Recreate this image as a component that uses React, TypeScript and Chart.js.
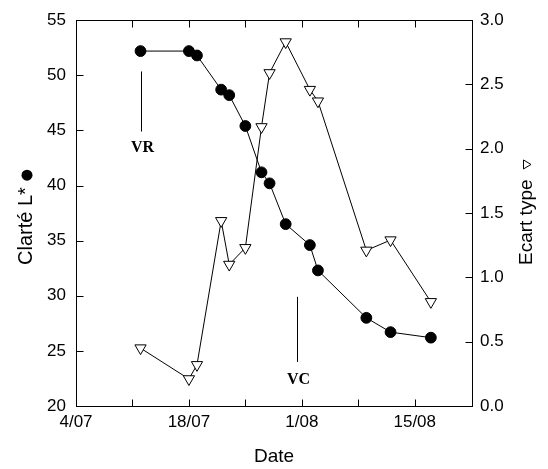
import React, { useEffect, useRef } from 'react';
import { Chart, registerables } from 'chart.js';

Chart.register(...registerables);

// Days counted from 4 July
const days = [8, 14, 15, 18, 19, 21, 23, 24, 26, 29, 30, 36, 39, 44];
const clarte = [52.2, 52.2, 51.8, 48.7, 48.2, 45.4, 41.2, 40.2, 36.5, 34.6, 32.3, 28.0, 26.7, 26.2];
const ecartType = [0.45, 0.21, 0.32, 1.44, 1.1, 1.23, 2.17, 2.59, 2.83, 2.46, 2.37, 1.21, 1.29, 0.81];

const xMin = 0;
const xMax = 49.1;
const xTickValues = [0, 7, 14, 21, 28, 35, 42];
const xTickLabels: Record<number, string> = { 0: '4/07', 14: '18/07', 28: '1/08', 42: '15/08' };
const leftTicks = [20, 25, 30, 35, 40, 45, 50, 55];
const rightTicks = [0, 0.5, 1, 1.5, 2, 2.5, 3];

const markerLabels = ['VR', 'VC'];
const markerDays = [8, 27.4];
const markerTop = [50.35, 29.9];
const markerBottom = [44.9, 24.0];
const markerTextY = [43.4, 22.4];

const xTitle = 'Date';
const leftTitle = 'Clarté L*';
const rightTitle = 'Ecart type';

const SANS = '"Liberation Sans", Arial, sans-serif';
const SERIF = '"Liberation Serif", "Times New Roman", serif';

const framePlugin = {
  id: 'framePlugin',
  afterDraw(chart: any) {
    const { ctx, chartArea } = chart;
    const { left, right, top, bottom } = chartArea;
    const x = chart.scales.x;
    const y = chart.scales.y;
    const y2 = chart.scales.y2;
    ctx.save();
    ctx.strokeStyle = '#000';
    ctx.lineWidth = 1;
    const L = Math.round(left) + 0.5;
    const R = Math.round(right) + 0.5;
    const T = Math.round(top) + 0.5;
    const B = Math.round(bottom) + 0.5;
    ctx.strokeRect(L, T, R - L, B - T);
    ctx.beginPath();
    xTickValues.forEach((v) => {
      const px = Math.round(x.getPixelForValue(v)) + 0.5;
      ctx.moveTo(px, B);
      ctx.lineTo(px, B - 7);
      ctx.moveTo(px, T);
      ctx.lineTo(px, T + 7);
    });
    leftTicks.forEach((v) => {
      const py = Math.round(y.getPixelForValue(v)) + 0.5;
      ctx.moveTo(L, py);
      ctx.lineTo(L + 7, py);
    });
    rightTicks.forEach((v) => {
      const py = Math.round(y2.getPixelForValue(v)) + 0.5;
      ctx.moveTo(R, py);
      ctx.lineTo(R - 7, py);
    });
    ctx.stroke();

    // VR / VC markers
    ctx.fillStyle = '#000';
    ctx.font = `bold 16px ${SERIF}`;
    ctx.textAlign = 'center';
    ctx.textBaseline = 'middle';
    markerLabels.forEach((lab, i) => {
      const px = Math.round(x.getPixelForValue(markerDays[i])) + 0.5;
      ctx.beginPath();
      ctx.moveTo(px, y.getPixelForValue(markerTop[i]));
      ctx.lineTo(px, y.getPixelForValue(markerBottom[i]));
      ctx.stroke();
      ctx.fillText(lab, px + 1, y.getPixelForValue(markerTextY[i]));
    });

    // X title
    ctx.font = `19px ${SANS}`;
    ctx.fillText(xTitle, (left + right) / 2, 457);

    // Left title (rotated, reading upward) with filled circle
    ctx.save();
    ctx.translate(26, 265);
    ctx.rotate(-Math.PI / 2);
    ctx.textAlign = 'left';
    ctx.textBaseline = 'middle';
    ctx.font = `20px ${SANS}`;
    ctx.fillText(leftTitle, 0, 0);
    const lw = ctx.measureText(leftTitle).width;
    ctx.beginPath();
    ctx.arc(lw + 12, 1, 5.5, 0, Math.PI * 2);
    ctx.fill();
    ctx.restore();

    // Right title (rotated, reading upward) with open triangle
    ctx.save();
    ctx.translate(527, 265);
    ctx.rotate(-Math.PI / 2);
    ctx.textAlign = 'left';
    ctx.textBaseline = 'middle';
    ctx.font = `19px ${SANS}`;
    ctx.fillText(rightTitle, 0, 0);
    const rw = ctx.measureText(rightTitle).width;
    const tx = rw + 15;
    ctx.beginPath();
    ctx.moveTo(tx - 4.5, -3.5);
    ctx.lineTo(tx + 4.5, -3.5);
    ctx.lineTo(tx, 4);
    ctx.closePath();
    ctx.lineWidth = 1;
    ctx.stroke();
    ctx.restore();

    ctx.restore();
  },
};

export default function App() {
  const ref = useRef<HTMLCanvasElement>(null);
  useEffect(() => {
    const canvas = ref.current;
    if (!canvas) return;
    const chart = new Chart(canvas, {
      type: 'line',
      data: {
        datasets: [
          {
            label: leftTitle,
            data: days.map((d, i) => ({ x: d, y: clarte[i] })),
            yAxisID: 'y',
            borderColor: '#000',
            borderWidth: 1,
            pointStyle: 'circle',
            pointRadius: 5.4,
            pointBackgroundColor: '#000',
            pointBorderColor: '#000',
            pointBorderWidth: 1,
            order: 0,
          },
          {
            label: rightTitle,
            data: days.map((d, i) => ({ x: d, y: ecartType[i] })),
            yAxisID: 'y2',
            borderColor: '#000',
            borderWidth: 1,
            pointStyle: 'triangle',
            rotation: 180,
            pointRadius: 6.5,
            pointBackgroundColor: '#fff',
            pointBorderColor: '#000',
            pointBorderWidth: 1,
            order: 1,
          },
        ],
      } as any,
      options: {
        responsive: false,
        animation: false,
        layout: { padding: { top: 15, left: 0, right: 0, bottom: 0 } },
        plugins: { legend: { display: false }, tooltip: { enabled: false } },
        scales: {
          x: {
            type: 'linear',
            min: xMin,
            max: xMax,
            grid: { display: false, drawTicks: false },
            border: { display: false },
            afterBuildTicks: (s: any) => {
              s.ticks = xTickValues.map((v) => ({ value: v }));
            },
            afterFit: (s: any) => {
              s.height = 63;
            },
            ticks: {
              autoSkip: false,
              maxRotation: 0,
              padding: 6,
              color: '#000',
              font: { size: 17, family: SANS },
              callback: (v: any) => xTickLabels[Number(v)] ?? '',
            },
          },
          y: {
            position: 'left',
            min: 20,
            max: 55,
            grid: { display: false, drawTicks: false },
            border: { display: false },
            afterBuildTicks: (s: any) => {
              s.ticks = leftTicks.map((v) => ({ value: v }));
            },
            afterFit: (s: any) => {
              s.width = 76;
            },
            ticks: {
              padding: 10,
              color: '#000',
              font: { size: 17, family: SANS },
              callback: (v: any) => String(v),
            },
          },
          y2: {
            position: 'right',
            min: 0,
            max: 3,
            grid: { display: false, drawTicks: false },
            border: { display: false },
            afterBuildTicks: (s: any) => {
              s.ticks = rightTicks.map((v) => ({ value: v }));
            },
            afterFit: (s: any) => {
              s.width = 76;
            },
            ticks: {
              padding: 8,
              color: '#000',
              font: { size: 17, family: SANS },
              callback: (v: any) => Number(v).toFixed(1),
            },
          },
        },
      } as any,
      plugins: [framePlugin],
    });
    return () => chart.destroy();
  }, []);
  return (
    <div style={{ position: 'fixed', left: 0, top: 0, width: 548, height: 469, background: '#fff' }}>
      <canvas ref={ref} width={548} height={469} style={{ display: 'block', width: 548, height: 469 }} />
    </div>
  );
}
